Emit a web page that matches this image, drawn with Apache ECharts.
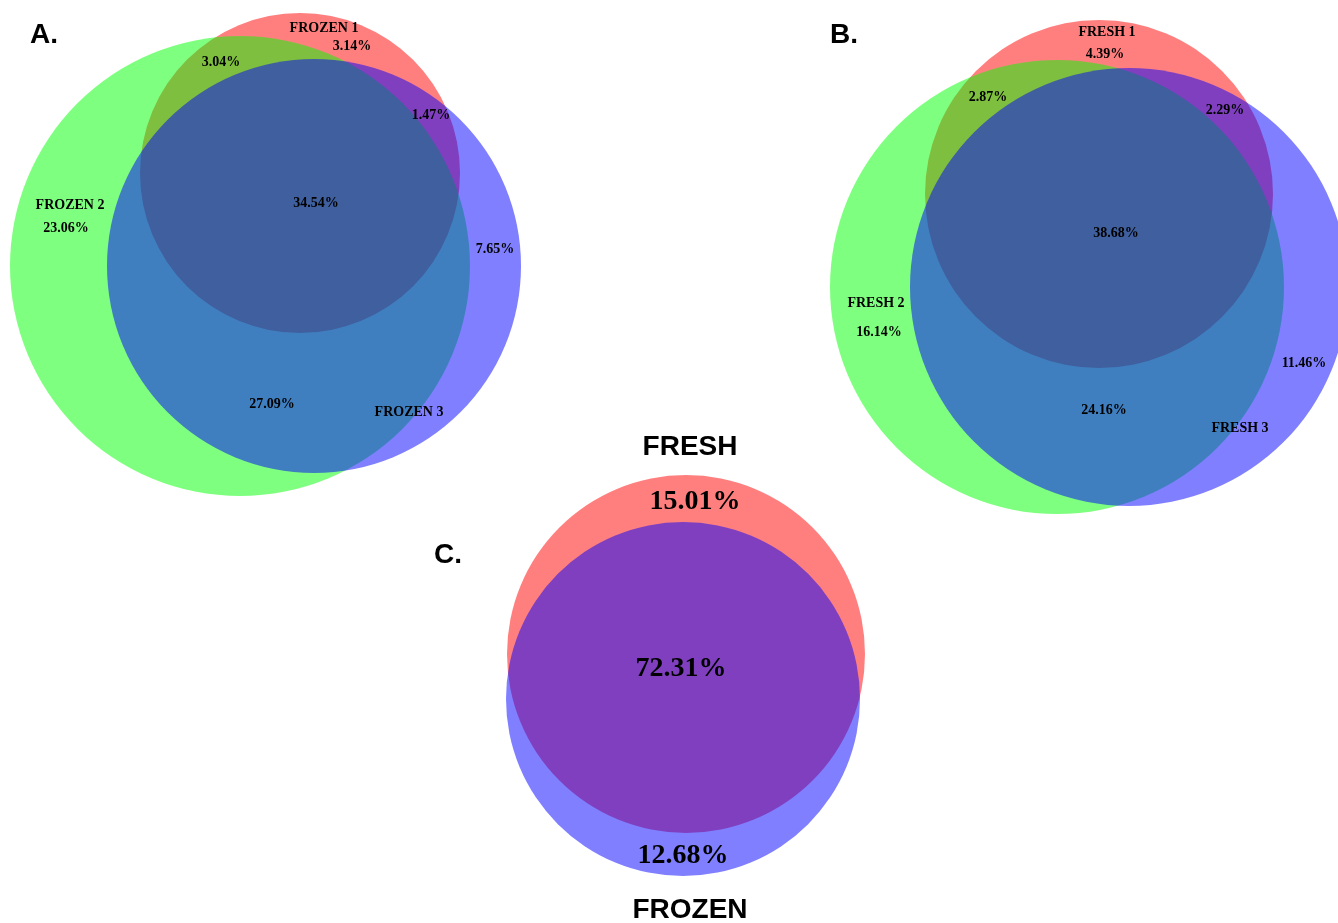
<!DOCTYPE html>
<html>
<head>
<meta charset="utf-8">
<script src="https://cdn.jsdelivr.net/npm/echarts@6/dist/echarts.min.js"></script>
<style>
  html, body { margin: 0; padding: 0; background: #fff; }
  #chart { width: 1338px; height: 923px; }
</style>
</head>
<body>
<div id="chart"></div>
<script>
  // set names
  const setsA = ['FROZEN 1', 'FROZEN 2', 'FROZEN 3']
  const setsB = ['FRESH 1', 'FRESH 2', 'FRESH 3']
  const setsC = ['FRESH', 'FROZEN']
  // region order: only 1, only 2, only 3, 1&2, 1&3, 2&3, all three
  const valuesA = [3.14, 23.06, 7.65, 3.04, 1.47, 27.09, 34.54]
  const valuesB = [4.39, 16.14, 11.46, 2.87, 2.29, 24.16, 38.68]
  // only fresh, only frozen, both
  const valuesC = [15.01, 12.68, 72.31]
  const panelLetters = ['A.', 'B.', 'C.']

  // layout, in the units of the hidden axes (one unit = one px of the frame)
  const layout = {
    A: {
      circles: [[300, 173, 160], [240, 266, 230], [314, 266, 207]],
      names: [[324, 28], [70, 205], [409, 412]],
      regions: [[352, 46], [66, 228], [495, 249], [221, 62], [431, 115], [272, 404], [316, 203]]
    },
    B: {
      circles: [[1099, 194, 174], [1057, 287, 227], [1129, 287, 219]],
      names: [[1107, 32], [876, 303], [1240, 428]],
      regions: [[1105, 54], [879, 332], [1304, 363], [988, 97], [1225, 110], [1104, 410], [1116, 233]]
    },
    C: {
      circles: [[686, 654, 179], [683, 699, 177]],
      names: [[690, 447], [690, 910]],
      regions: [[695, 502], [683, 856], [681, 669]]
    },
    letters: [[44, 35], [844, 35], [448, 555]]
  }
  const colors3 = ['rgba(255,0,0,0.5)', 'rgba(0,255,0,0.5)', 'rgba(0,0,255,0.5)']
  const colors2 = ['rgba(255,0,0,0.5)', 'rgba(0,0,255,0.5)']

  const circleData = []
  layout.A.circles.forEach((c, i) => circleData.push({ value: c, itemStyle: { color: colors3[i] } }))
  layout.B.circles.forEach((c, i) => circleData.push({ value: c, itemStyle: { color: colors3[i] } }))
  layout.C.circles.forEach((c, i) => circleData.push({ value: c, itemStyle: { color: colors2[i] } }))

  const serif = 'Liberation Serif, Times New Roman, serif'
  const sans = 'Liberation Sans, Arial, sans-serif'
  const textData = []
  function addText (pos, text, size, family) {
    textData.push({
      value: pos,
      name: text,
      label: {
        fontSize: size,
        fontFamily: family,
        color: '#000000',
        textBorderWidth: 0
      }
    })
  }
  setsA.forEach((n, i) => addText(layout.A.names[i], n, 14, serif))
  valuesA.forEach((v, i) => addText(layout.A.regions[i], v.toFixed(2) + '%', 14, serif))
  setsB.forEach((n, i) => addText(layout.B.names[i], n, 14, serif))
  valuesB.forEach((v, i) => addText(layout.B.regions[i], v.toFixed(2) + '%', 14, serif))
  setsC.forEach((n, i) => addText(layout.C.names[i], n, 28, sans))
  valuesC.forEach((v, i) => addText(layout.C.regions[i], v.toFixed(2) + '%', 28, serif))
  panelLetters.forEach((t, i) => addText(layout.letters[i], t, 28, sans))

  const chart = echarts.init(document.getElementById('chart'))
  const option = {
    animation: false,
    grid: { left: 0, right: 0, top: 0, bottom: 0 },
    xAxis: { type: 'value', min: 0, max: 1338, show: false },
    yAxis: { type: 'value', min: 0, max: 923, inverse: true, show: false },
    series: [
      {
        type: 'custom',
        silent: true,
        data: circleData,
        renderItem (params, api) {
          const p = api.coord([api.value(0), api.value(1)])
          const r = api.size([api.value(2), 0])[0]
          return {
            type: 'circle',
            shape: { cx: p[0], cy: p[1], r: r },
            style: { fill: api.visual('color') }
          }
        }
      },
      {
        type: 'scatter',
        silent: true,
        symbolSize: 0,
        itemStyle: { opacity: 1 },
        data: textData,
        label: {
          show: true,
          position: 'inside',
          formatter: '{b}',
          color: '#000000',
          fontWeight: 'bold',
          align: 'center',
          verticalAlign: 'middle'
        }
      }
    ]
  }
  chart.setOption(option)
  window.addEventListener('resize', () => chart.resize())
</script>
</body>
</html>
